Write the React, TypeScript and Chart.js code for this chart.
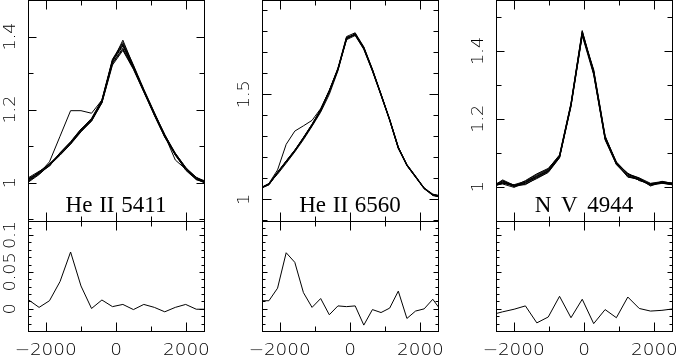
import React, { useEffect, useRef } from 'react';
import { Chart, registerables } from 'chart.js';
Chart.register(...registerables);

const W = 679;
const H = 357;

// ---------- velocity grids (km/s) ----------
const velHe5411 = [-2480, -2185, -1890, -1590, -1290, -995, -695, -400, -100, 195, 495, 790, 1090, 1385, 1685, 1980, 2280, 2575];
const velHe6560 = [-2548, -2303, -2058, -1813, -1568, -1323, -1078, -833, -588, -343, -98, 147, 392, 637, 882, 1127, 1372, 1617, 1862, 2107, 2352, 2597];
const velNV4944 = [-2630, -2310, -1985, -1665, -1340, -1015, -695, -370, -50, 275, 600, 920, 1245, 1570, 1890, 2215, 2535];

// ---------- He II 5411 profiles ----------
const he5411A = [1.004, 1.024, 1.047, 1.075, 1.105, 1.139, 1.168, 1.218, 1.322, 1.362, 1.310, 1.248, 1.184, 1.125, 1.075, 1.036, 1.010, 0.998];
const he5411B = [1.010, 1.029, 1.051, 1.081, 1.111, 1.146, 1.176, 1.227, 1.338, 1.384, 1.322, 1.256, 1.192, 1.131, 1.081, 1.041, 1.014, 1.003];
const he5411C = [1.012, 1.026, 1.046, 1.080, 1.110, 1.141, 1.170, 1.220, 1.328, 1.368, 1.314, 1.250, 1.186, 1.130, 1.079, 1.034, 1.008, 1.001];
const he5411D = [1.006, 1.030, 1.052, 1.077, 1.106, 1.144, 1.174, 1.225, 1.334, 1.377, 1.318, 1.254, 1.191, 1.126, 1.076, 1.040, 1.015, 0.999];
const he5411E = [1.002, 1.022, 1.048, 1.079, 1.109, 1.143, 1.171, 1.223, 1.331, 1.390, 1.320, 1.251, 1.189, 1.129, 1.062, 1.037, 1.011, 1.002];
const he5411F = [1.009, 1.028, 1.050, 1.076, 1.107, 1.140, 1.173, 1.219, 1.326, 1.365, 1.312, 1.249, 1.187, 1.127, 1.077, 1.039, 1.013, 1.000];
const he5411G = [1.014, 1.031, 1.045, 1.082, 1.112, 1.147, 1.169, 1.221, 1.336, 1.380, 1.317, 1.253, 1.185, 1.124, 1.080, 1.042, 1.009, 0.997];
const he5411H = [1.006, 1.025, 1.057, 1.127, 1.197, 1.197, 1.190, 1.226, 1.332, 1.374, 1.315, 1.251, 1.190, 1.132, 1.077, 1.036, 1.010, 1.001];
const resHe5411 = [0.012, 0.002, 0.011, 0.037, 0.077, 0.031, 0.0005, 0.012, 0.003, 0.006, -0.001, 0.006, 0.002, -0.004, 0.002, 0.006, -0.0005, -0.0005];

// ---------- He II 6560 profiles ----------
const he6560A = [1.050, 1.070, 1.125, 1.177, 1.229, 1.289, 1.351, 1.421, 1.511, 1.615, 1.760, 1.780, 1.714, 1.610, 1.494, 1.375, 1.242, 1.160, 1.105, 1.050, 1.020, 1.008];
const he6560B = [1.055, 1.074, 1.130, 1.183, 1.235, 1.295, 1.358, 1.429, 1.519, 1.625, 1.775, 1.793, 1.726, 1.620, 1.502, 1.382, 1.249, 1.166, 1.111, 1.055, 1.025, 1.015];
const he6560C = [1.053, 1.071, 1.127, 1.179, 1.231, 1.291, 1.353, 1.423, 1.513, 1.618, 1.770, 1.784, 1.722, 1.613, 1.496, 1.380, 1.247, 1.162, 1.107, 1.053, 1.018, 1.011];
const he6560D = [1.051, 1.073, 1.129, 1.181, 1.233, 1.293, 1.357, 1.427, 1.517, 1.622, 1.765, 1.790, 1.718, 1.617, 1.500, 1.376, 1.243, 1.164, 1.109, 1.051, 1.024, 1.013];
const he6560E = [1.054, 1.069, 1.126, 1.182, 1.234, 1.290, 1.352, 1.424, 1.514, 1.619, 1.772, 1.782, 1.716, 1.612, 1.499, 1.381, 1.250, 1.161, 1.106, 1.054, 1.021, 1.009];
const he6560F = [1.052, 1.073, 1.128, 1.180, 1.230, 1.294, 1.356, 1.426, 1.516, 1.621, 1.762, 1.788, 1.724, 1.618, 1.497, 1.379, 1.244, 1.165, 1.110, 1.052, 1.023, 1.016];
const he6560G = [1.052, 1.074, 1.120, 1.172, 1.226, 1.284, 1.348, 1.415, 1.500, 1.612, 1.766, 1.785, 1.721, 1.616, 1.499, 1.379, 1.246, 1.163, 1.108, 1.053, 1.022, 1.012];
const he6560H = [1.053, 1.076, 1.140, 1.262, 1.325, 1.350, 1.376, 1.432, 1.518, 1.620, 1.766, 1.786, 1.719, 1.614, 1.499, 1.378, 1.245, 1.163, 1.108, 1.052, 1.022, 1.012];
const resHe6560 = [0.011, 0.011, 0.028, 0.076, 0.063, 0.022, 0.002, 0.014, -0.008, 0.004, 0.003, 0.004, -0.022, -0.001, -0.005, 0.001, 0.024, -0.013, -0.003, 0.0, 0.013, -0.003];

// ---------- N V 4944 profiles ----------
const nv4944A = [0.998, 1.018, 1.000, 1.008, 1.024, 1.042, 1.085, 1.236, 1.445, 1.330, 1.138, 1.065, 1.030, 1.020, 1.004, 1.010, 1.006];
const nv4944B = [1.002, 1.010, 1.006, 1.016, 1.036, 1.052, 1.094, 1.246, 1.458, 1.342, 1.148, 1.073, 1.038, 1.026, 1.010, 1.015, 1.010];
const nv4944C = [1.000, 1.014, 1.002, 1.010, 1.028, 1.046, 1.088, 1.240, 1.450, 1.334, 1.140, 1.067, 1.032, 1.021, 1.006, 1.012, 1.007];
const nv4944D = [1.004, 1.008, 0.998, 1.014, 1.033, 1.050, 1.091, 1.243, 1.455, 1.338, 1.145, 1.071, 1.036, 1.024, 1.002, 1.016, 1.009];
const nv4944E = [0.999, 1.020, 1.004, 1.006, 1.026, 1.044, 1.086, 1.238, 1.447, 1.345, 1.150, 1.068, 1.040, 1.018, 1.008, 1.011, 1.005];
const nv4944F = [1.001, 1.012, 1.001, 1.018, 1.038, 1.054, 1.092, 1.244, 1.460, 1.332, 1.141, 1.070, 1.028, 1.023, 1.007, 1.014, 1.008];
const nv4944G = [1.003, 1.016, 1.005, 1.012, 1.030, 1.048, 1.089, 1.239, 1.449, 1.337, 1.143, 1.066, 1.034, 1.019, 1.009, 1.013, 1.011];
const nv4944H = [0.997, 1.011, 1.003, 1.013, 1.031, 1.046, 1.087, 1.242, 1.453, 1.340, 1.146, 1.072, 1.037, 1.025, 1.005, 1.012, 1.006];
const resNV4944 = [-0.008, -0.004, -0.0005, 0.004, -0.019, -0.011, 0.017, -0.012, 0.013, -0.020, -0.001, -0.012, 0.016, 0.0005, -0.003, -0.002, 0.0];

// ---------- ticks ----------
const xTicks = [-2000, -1000, 0, 1000, 2000];
const xMajorTicks = [-2000, 0, 2000];
const xTickLabels = ['\u22122000', '0', '2000'];
const topTicks = [0.9, 1.0, 1.1, 1.2, 1.3, 1.4, 1.5];
const topMajor12 = [1.0, 1.2, 1.4];
const topLabels12 = ['1', '1.2', '1.4'];
const topTicks6560 = [0.9, 1.0, 1.1, 1.2, 1.3, 1.4, 1.5, 1.6, 1.7, 1.8, 1.9];
const topMajor6560 = [1.0, 1.5];
const topLabels6560 = ['1', '1.5'];
const resTicks = [-0.02, -0.01, 0, 0.01, 0.02, 0.03, 0.04, 0.05, 0.06, 0.07, 0.08, 0.09, 0.10, 0.11];
const resMajor = [0, 0.05, 0.1];
const resLabels = ['0', '0.05', '0.1'];
const lineNames = ['He II 5411', 'He II 6560', 'N V 4944'];

type PanelCfg = {
  left: number; right: number; top: number; bottom: number;
  yMin: number; yMax: number;
  vel: number[]; series: number[][];
  yTicks: number[]; yMajor: number[]; yMajorLen: number; yMinorLen: number;
  yLabels: string[] | null;
  xLabels: boolean;
  name: string | null;
};

const NUM_FONT = '300 16px "DejaVu Sans"';
const NAME_FONT = '23px "Liberation Serif"';

function near(a: number, list: number[]) {
  return list.some((b) => Math.abs(a - b) < 1e-9);
}

function makePlugin(cfg: PanelCfg) {
  return {
    id: 'frameTicks',
    afterDatasetsDraw(chart: any) {
      const ctx: CanvasRenderingContext2D = chart.ctx;
      const a = chart.chartArea;
      const xs = chart.scales.x;
      const ys = chart.scales.y;
      const L = Math.round(a.left) + 0.5;
      const R = Math.round(a.right) + 0.5;
      const T = Math.round(a.top) + 0.5;
      const B = Math.round(a.bottom) + 0.5;
      ctx.save();
      ctx.strokeStyle = '#000';
      ctx.lineWidth = 1;
      ctx.beginPath();
      xTicks.forEach((v) => {
        const px = Math.round(xs.getPixelForValue(v)) + 0.5;
        const len = near(v, xMajorTicks) ? 9 : 5;
        ctx.moveTo(px, T); ctx.lineTo(px, T + len);
        ctx.moveTo(px, B); ctx.lineTo(px, B - len);
      });
      cfg.yTicks.forEach((v) => {
        if (v < cfg.yMin || v > cfg.yMax) return;
        const py = Math.round(ys.getPixelForValue(v)) + 0.5;
        const len = near(v, cfg.yMajor) ? cfg.yMajorLen : cfg.yMinorLen;
        ctx.moveTo(L, py); ctx.lineTo(L + len, py);
        ctx.moveTo(R, py); ctx.lineTo(R - len, py);
      });
      ctx.stroke();
      ctx.strokeRect(L, T, R - L, B - T);

      ctx.fillStyle = '#000';
      ctx.font = NUM_FONT;
      if (cfg.xLabels) {
        xMajorTicks.forEach((v, i) => {
          const px = xs.getPixelForValue(v);
          ctx.save();
          ctx.translate(px, 355);
          ctx.scale(1.15, 1);
          ctx.textAlign = 'center';
          ctx.textBaseline = 'alphabetic';
          ctx.fillText(xTickLabels[i], 0, 0);
          ctx.restore();
        });
      }
      if (cfg.yLabels) {
        cfg.yMajor.forEach((v, i) => {
          const py = ys.getPixelForValue(v);
          ctx.save();
          ctx.translate(a.left - 13.5, py);
          ctx.rotate(-Math.PI / 2);
          ctx.scale(1.1, 1);
          ctx.textAlign = 'center';
          ctx.textBaseline = 'alphabetic';
          ctx.fillText((cfg.yLabels as string[])[i], 0, 0);
          ctx.restore();
        });
      }
      if (cfg.name) {
        ctx.font = NAME_FONT;
        ctx.textAlign = 'center';
        ctx.textBaseline = 'alphabetic';
        (ctx as any).wordSpacing = cfg.name.startsWith('N') ? '4px' : '1px';
        ctx.fillText(cfg.name, (a.left + a.right) / 2, 212);
      }
      ctx.restore();
    },
  };
}

function Panel({ cfg }: { cfg: PanelCfg }) {
  const ref = useRef<HTMLCanvasElement | null>(null);
  useEffect(() => {
    if (!ref.current) return;
    const datasets = cfg.series.map((arr) => ({
      data: arr.map((y, i) => ({ x: cfg.vel[i], y })),
      borderColor: '#000',
      borderWidth: 1,
      pointRadius: 0,
      fill: false,
      tension: 0,
    }));
    const chart = new Chart(ref.current, {
      type: 'line',
      data: { datasets },
      options: {
        responsive: false,
        animation: false,
        devicePixelRatio: 1,
        events: [],
        layout: {
          padding: { left: cfg.left, top: cfg.top, right: W - cfg.right, bottom: H - cfg.bottom },
        },
        plugins: { legend: { display: false }, tooltip: { enabled: false } },
        scales: {
          x: { type: 'linear', min: -2500, max: 2500, display: false },
          y: { type: 'linear', min: cfg.yMin, max: cfg.yMax, display: false },
        },
      },
      plugins: [makePlugin(cfg)],
    } as any);
    return () => chart.destroy();
  }, []);
  return (
    <canvas
      ref={ref}
      width={W}
      height={H}
      style={{ position: 'absolute', left: 0, top: 0, width: W, height: H }}
    />
  );
}

const COLS = [
  { left: 28, right: 204 },
  { left: 262, right: 438 },
  { left: 496, right: 672 },
];
const TOP_Y = 0;
const SEP_Y = 221;
const BOT_Y = 331;

const panels: PanelCfg[] = [
  {
    ...COLS[0], top: TOP_Y, bottom: SEP_Y, yMin: 0.895, yMax: 1.5,
    vel: velHe5411, series: [he5411A, he5411B, he5411C, he5411D, he5411E, he5411F, he5411G, he5411H],
    yTicks: topTicks, yMajor: topMajor12, yMajorLen: 8, yMinorLen: 5, yLabels: topLabels12, xLabels: false, name: lineNames[0],
  },
  {
    ...COLS[0], top: SEP_Y, bottom: BOT_Y, yMin: -0.03, yMax: 0.119,
    vel: velHe5411, series: [resHe5411],
    yTicks: resTicks, yMajor: resMajor, yMajorLen: 5, yMinorLen: 3, yLabels: resLabels, xLabels: true, name: null,
  },
  {
    ...COLS[1], top: TOP_Y, bottom: SEP_Y, yMin: 0.897, yMax: 1.949,
    vel: velHe6560, series: [he6560A, he6560B, he6560C, he6560D, he6560E, he6560F, he6560G, he6560H],
    yTicks: topTicks6560, yMajor: topMajor6560, yMajorLen: 9, yMinorLen: 5, yLabels: topLabels6560, xLabels: false, name: lineNames[1],
  },
  {
    ...COLS[1], top: SEP_Y, bottom: BOT_Y, yMin: -0.03, yMax: 0.119,
    vel: velHe6560, series: [resHe6560],
    yTicks: resTicks, yMajor: resMajor, yMajorLen: 5, yMinorLen: 3, yLabels: null, xLabels: true, name: null,
  },
  {
    ...COLS[2], top: TOP_Y, bottom: SEP_Y, yMin: 0.899, yMax: 1.55,
    vel: velNV4944, series: [nv4944A, nv4944B, nv4944C, nv4944D, nv4944E, nv4944F, nv4944G, nv4944H],
    yTicks: topTicks, yMajor: topMajor12, yMajorLen: 8, yMinorLen: 5, yLabels: topLabels12, xLabels: false, name: lineNames[2],
  },
  {
    ...COLS[2], top: SEP_Y, bottom: BOT_Y, yMin: -0.03, yMax: 0.119,
    vel: velNV4944, series: [resNV4944],
    yTicks: resTicks, yMajor: resMajor, yMajorLen: 5, yMinorLen: 3, yLabels: null, xLabels: true, name: null,
  },
];

export default function App() {
  useEffect(() => {
    document.body.style.margin = '0';
    document.body.style.background = '#fff';
  }, []);
  return (
    <div style={{ position: 'absolute', left: 0, top: 0, width: W, height: H, background: '#fff' }}>
      {panels.map((p, i) => (
        <Panel key={i} cfg={p} />
      ))}
    </div>
  );
}
